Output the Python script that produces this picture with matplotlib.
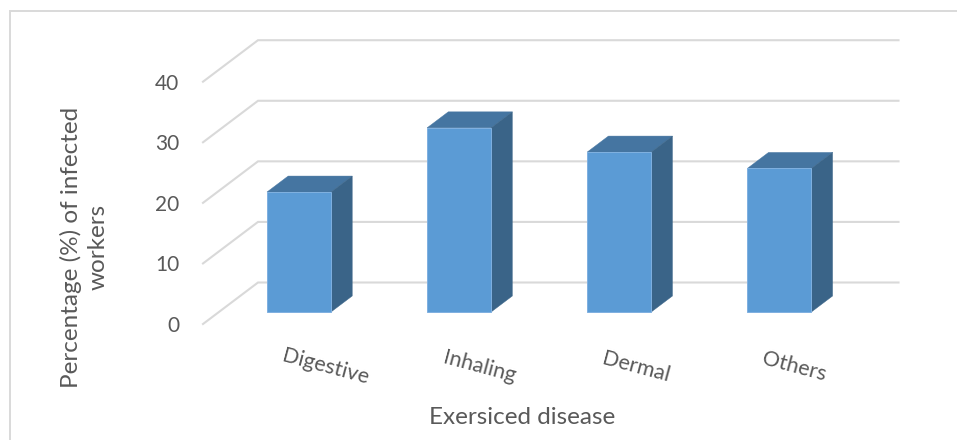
import matplotlib
matplotlib.use("Agg")
import matplotlib.pyplot as plt
from matplotlib.patches import Rectangle

plt.rcParams['font.family'] = ['Lato', 'DejaVu Sans']

categories = ['Digestive', 'Inhaling', 'Dermal', 'Others']
values = [19.8, 30.4, 26.4, 23.7]
y_ticks = [0, 10, 20, 30, 40]

W, H = 957, 440
LEFT, RIGHT, BOTTOM, TOP = 203, 843.5, 324, 81.7

TEXT = '#595959'
GRID = '#d9d9d9'
FRONT = '#5b9bd5'
EDGE = '#7fb0e0'
TOP_FACE = '#4575a1'
SIDE = '#3a6488'

# oblique projection: depth 0 is the front edge of the floor, 1 the back wall
DX = 55 / ((RIGHT - LEFT) / 4)
DY = 41.5 / ((BOTTOM - TOP) / 40)
BAR_D0, BAR_D1 = 0.29, 0.675
HALF = 0.2
# horizontal nudge of each slanted label from its category, in pixels
LABEL_SHIFT = [43, 36, 33, 31]


def proj(x, y, d):
    return x + d * DX, y + d * DY


fig = plt.figure(figsize=(W / 100, H / 100), dpi=100)
ax = fig.add_axes([LEFT / W, 1 - BOTTOM / H, (RIGHT - LEFT) / W, (BOTTOM - TOP) / H])

# outer chart frame, open at the right and bottom
fig.add_artist(Rectangle((10 / W, -0.1), 1.1, 1.1 - 11.5 / H, transform=fig.transFigure,
                         fill=False, ec=GRID, lw=1.4))

# side wall and back wall gridlines
for t in y_ticks:
    x0, y0 = proj(-0.5, t, 0)
    x1, y1 = proj(-0.5, t, 1)
    x2, y2 = proj(3.5, t, 1)
    ax.plot([x0, x1, x2], [y0, y1, y2], color=GRID, lw=1.5, clip_on=False, zorder=1,
            solid_joinstyle='miter')

for i, v in enumerate(values):
    xl, y0 = proj(i - HALF, 0, BAR_D0)
    xr, _ = proj(i + HALF, 0, BAR_D0)
    xl_b, y0_b = proj(i - HALF, 0, BAR_D1)
    xr_b, _ = proj(i + HALF, 0, BAR_D1)
    ax.bar((xl + xr) / 2, v, width=xr - xl, bottom=y0, color=FRONT, edgecolor=EDGE,
           linewidth=0.7, clip_on=False, zorder=3)
    ax.fill([xl, xr, xr_b, xl_b], [y0 + v, y0 + v, y0_b + v, y0_b + v], color=TOP_FACE,
            lw=0.3, clip_on=False, zorder=2)
    ax.fill([xr, xr_b, xr_b, xr], [y0, y0_b, y0_b + v, y0 + v], color=SIDE,
            lw=0.3, clip_on=False, zorder=2)

ax.set_xlim(-0.5, 3.5)
ax.set_ylim(0, 40)
ax.set_xticks([])
ax.set_yticks(y_ticks)
ax.tick_params(axis='y', length=0, pad=17, labelsize=15, labelcolor=TEXT)
for s in ax.spines.values():
    s.set_visible(False)
ax.patch.set_visible(False)

# slanted category labels
for i, c in enumerate(categories):
    ax.annotate(c, xy=(i, 0), xytext=(LABEL_SHIFT[i], -43), textcoords='offset pixels', rotation=-15,
                ha='center', va='center', rotation_mode='anchor', fontsize=15.5,
                color=TEXT, annotation_clip=False)

fig.text(522 / W, 1 - 417 / H, 'Exersiced disease', ha='center', va='center',
         fontsize=17.5, color=TEXT)
fig.text(84 / W, 1 - 247 / H, 'Percentage (%) of infected\nworkers', ha='center', va='center',
         rotation=90, fontsize=17.5, color=TEXT, multialignment='center', linespacing=1.35)

fig.savefig('out.png', dpi=100)
